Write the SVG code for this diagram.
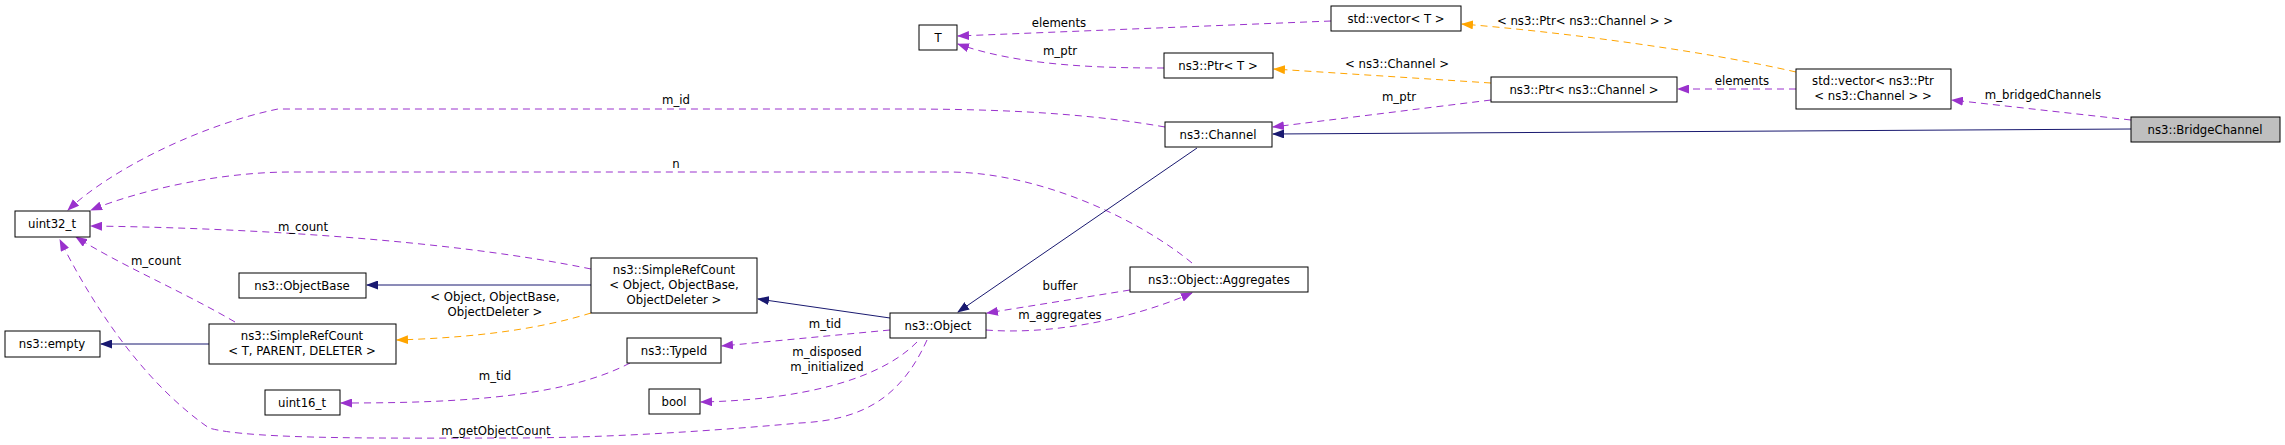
<svg xmlns="http://www.w3.org/2000/svg" width="2285" height="445" viewBox="0 0 2285 445">
<style>
text{font-family:"DejaVu Sans Condensed","DejaVu Sans",sans-serif;font-stretch:condensed;font-size:13px;fill:#000}
.n rect{fill:#fff;stroke:#000;stroke-width:1}
.n text{text-anchor:middle}
.p{fill:none;stroke:#9a32cd;stroke-dasharray:7,5}
.o{fill:none;stroke:#ffa500;stroke-dasharray:7,5}
.s{fill:none;stroke:#191970}
.l{text-anchor:middle}
</style>
<defs>
<marker id="mp" markerUnits="userSpaceOnUse" markerWidth="12" markerHeight="9" refX="11" refY="4.5" orient="auto"><path d="M0,0L12,4.5L0,9z" fill="#9a32cd"/></marker>
<marker id="mo" markerUnits="userSpaceOnUse" markerWidth="12" markerHeight="9" refX="11" refY="4.5" orient="auto"><path d="M0,0L12,4.5L0,9z" fill="#ffa500"/></marker>
<marker id="ms" markerUnits="userSpaceOnUse" markerWidth="12" markerHeight="9" refX="11" refY="4.5" orient="auto"><path d="M0,0L12,4.5L0,9z" fill="#191970"/></marker>
</defs>
<g id="edges">
<path class="s" marker-end="url(#ms)" d="M2131,129L1273,134"/>
<path class="p" marker-end="url(#mp)" d="M2131,120L1952,100"/>
<text x="2043" y="99" class="l">m_bridgedChannels</text>
<path class="p" marker-end="url(#mp)" d="M1796,89L1678,89"/>
<text x="1742" y="85" class="l">elements</text>
<path class="o" marker-end="url(#mo)" d="M1796,72C1700,50 1560,32 1462,24"/>
<text x="1585" y="25" class="l">&lt; ns3::Ptr&lt; ns3::Channel &gt; &gt;</text>
<path class="o" marker-end="url(#mo)" d="M1491,83L1274,69"/>
<text x="1397" y="68" class="l">&lt; ns3::Channel &gt;</text>
<path class="p" marker-end="url(#mp)" d="M1491,100L1273,127"/>
<text x="1399" y="101" class="l">m_ptr</text>
<path class="p" marker-end="url(#mp)" d="M1331,21L958,36"/>
<text x="1059" y="27" class="l">elements</text>
<path class="p" marker-end="url(#mp)" d="M1164,68C1100,68 1020,66 958,44"/>
<text x="1060" y="55" class="l">m_ptr</text>
<path class="p" marker-end="url(#mp)" d="M1165,127C1080,112 990,109 900,109L278,109C200,125 110,170 68,210"/>
<text x="676" y="104" class="l">m_id</text>
<path class="p" marker-end="url(#mp)" d="M1192,263C1140,220 1040,172 948,172L291,172C220,172 140,190 91,210"/>
<text x="676" y="168" class="l">n</text>
<path class="p" marker-end="url(#mp)" d="M591,269C450,240 250,228 91,226"/>
<text x="303" y="231" class="l">m_count</text>
<path class="p" marker-end="url(#mp)" d="M235,322C180,290 120,265 76,237"/>
<text x="156" y="265" class="l">m_count</text>
<path class="s" marker-end="url(#ms)" d="M591,285L367,285"/>
<path class="o" marker-end="url(#mo)" d="M591,313C530,332 460,338 397,340"/>
<text x="495" y="301" class="l">&lt; Object, ObjectBase,</text>
<text x="495" y="316" class="l">ObjectDeleter &gt;</text>
<path class="s" marker-end="url(#ms)" d="M209,344L101,344"/>
<path class="s" marker-end="url(#ms)" d="M890,318L758,299"/>
<path class="s" marker-end="url(#ms)" d="M1197,148L958,312"/>
<path class="p" marker-end="url(#mp)" d="M890,330L722,346"/>
<text x="825" y="328" class="l">m_tid</text>
<path class="p" marker-end="url(#mp)" d="M917,342C880,380 800,400 701,402"/>
<text x="827" y="356" class="l">m_disposed</text>
<text x="827" y="371" class="l">m_initialized</text>
<path class="p" marker-end="url(#mp)" d="M630,363C560,400 440,403 341,403"/>
<text x="495" y="380" class="l">m_tid</text>
<path class="p" marker-end="url(#mp)" d="M927,340C900,400 860,420 800,423C700,432 600,438 510,438C400,438 250,440 209,428C140,380 90,300 60,240"/>
<text x="496" y="435" class="l">m_getObjectCount</text>
<path class="p" marker-end="url(#mp)" d="M1130,290L987,313"/>
<text x="1060" y="290" class="l">buffer</text>
<path class="p" marker-end="url(#mp)" d="M986,330C1050,335 1130,320 1192,293"/>
<text x="1060" y="319" class="l">m_aggregates</text>
</g>
<g id="n_bridge" class="n"><rect x="2131" y="117" width="149" height="25" style="fill:#bfbfbf"/><text x="2205" y="134">ns3::BridgeChannel</text></g>
<g id="n_vecptr" class="n"><rect x="1796" y="69" width="155" height="40"/><text x="1873" y="85">std::vector&lt; ns3::Ptr</text><text x="1873" y="100">&lt; ns3::Channel &gt; &gt;</text></g>
<g id="n_ptrchan" class="n"><rect x="1491" y="77" width="186" height="25"/><text x="1584" y="94">ns3::Ptr&lt; ns3::Channel &gt;</text></g>
<g id="n_vecT" class="n"><rect x="1331" y="6" width="130" height="25"/><text x="1396" y="23">std::vector&lt; T &gt;</text></g>
<g id="n_ptrT" class="n"><rect x="1164" y="53" width="109" height="25"/><text x="1218" y="70">ns3::Ptr&lt; T &gt;</text></g>
<g id="n_T" class="n"><rect x="919" y="25" width="38" height="25"/><text x="938" y="42">T</text></g>
<g id="n_channel" class="n"><rect x="1165" y="122" width="107" height="25"/><text x="1218" y="139">ns3::Channel</text></g>
<g id="n_object" class="n"><rect x="890" y="313" width="96" height="25"/><text x="938" y="330">ns3::Object</text></g>
<g id="n_aggr" class="n"><rect x="1130" y="267" width="178" height="25"/><text x="1219" y="284">ns3::Object::Aggregates</text></g>
<g id="n_uint32" class="n"><rect x="15" y="211" width="75" height="26"/><text x="52" y="228">uint32_t</text></g>
<g id="n_objbase" class="n"><rect x="239" y="273" width="127" height="25"/><text x="302" y="290">ns3::ObjectBase</text></g>
<g id="n_srcobj" class="n"><rect x="591" y="258" width="166" height="55"/><text x="674" y="274">ns3::SimpleRefCount</text><text x="674" y="289">&lt; Object, ObjectBase,</text><text x="674" y="304">ObjectDeleter &gt;</text></g>
<g id="n_empty" class="n"><rect x="5" y="331" width="95" height="26"/><text x="52" y="348">ns3::empty</text></g>
<g id="n_srcT" class="n"><rect x="209" y="324" width="187" height="40"/><text x="302" y="340">ns3::SimpleRefCount</text><text x="302" y="355">&lt; T, PARENT, DELETER &gt;</text></g>
<g id="n_typeid" class="n"><rect x="627" y="338" width="94" height="25"/><text x="674" y="355">ns3::TypeId</text></g>
<g id="n_uint16" class="n"><rect x="265" y="390" width="75" height="25"/><text x="302" y="407">uint16_t</text></g>
<g id="n_bool" class="n"><rect x="649" y="389" width="51" height="25"/><text x="674" y="406">bool</text></g>
</svg>
